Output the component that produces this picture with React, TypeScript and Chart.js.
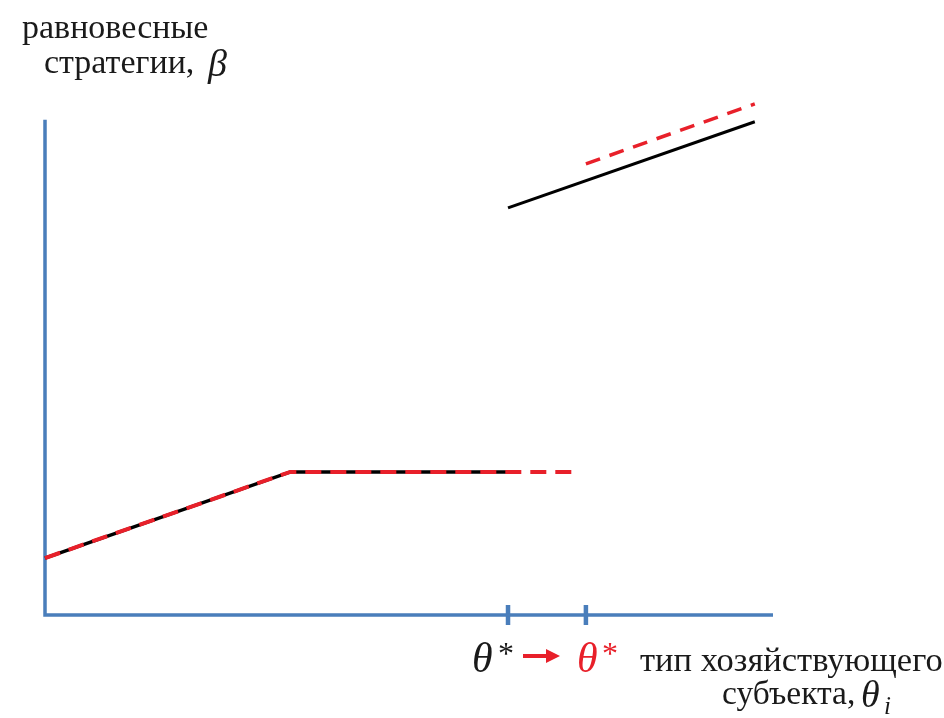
import React, { useEffect, useRef } from "react";
import { Chart, registerables } from "chart.js";
Chart.register(...registerables);

// Data (abstract units)
const axisXEnd = 10;
const axisYTop = 10;
const thetaOld = 6.36;
const thetaNew = 7.43;
const tickHalf = 0.2;
const lowerBlackX = [0, 3.37, 6.36];
const lowerBlackY = [1.15, 2.89, 2.89];
const lowerRedX = [0, 3.37, 7.28];
const lowerRedY = [1.15, 2.89, 2.89];
const upperBlackX = [6.36, 9.75];
const upperBlackY = [8.22, 9.96];
const upperRedX = [7.43, 9.75];
const upperRedY = [9.11, 10.32];

const pts = (xs: number[], ys: number[]) => xs.map((x, i) => ({ x, y: ys[i] }));

const AXIS_BLUE = "#4a7ebb";
const RED = "#e8202a";

const textPlugin = {
  id: "textLabels",
  afterDraw(chart: any) {
    const ctx = chart.ctx;
    const xs = chart.scales.x;
    ctx.save();
    ctx.textBaseline = "alphabetic";
    ctx.textAlign = "left";
    ctx.fillStyle = "#1a1a1a";
    ctx.font = '34px "Liberation Serif"';
    ctx.fillText("равновесные", 22, 38);
    ctx.fillText("стратегии,", 44, 73);
    ctx.font = 'italic 38px "Liberation Serif"';
    ctx.fillText("β", 208, 76);

    const t1 = xs.getPixelForValue(thetaOld);
    const t2 = xs.getPixelForValue(thetaNew);
    // old theta*
    ctx.font = 'italic 42px "Liberation Serif"';
    ctx.fillStyle = "#1a1a1a";
    ctx.fillText("θ", t1 - 36, 672);
    ctx.font = '32px "Liberation Serif"';
    ctx.fillText("*", t1 - 10, 664);
    // arrow
    ctx.fillStyle = RED;
    ctx.strokeStyle = RED;
    ctx.lineWidth = 4;
    ctx.beginPath();
    ctx.moveTo(t1 + 15, 656);
    ctx.lineTo(t1 + 40, 656);
    ctx.stroke();
    ctx.beginPath();
    ctx.moveTo(t1 + 38, 649);
    ctx.lineTo(t1 + 52, 656);
    ctx.lineTo(t1 + 38, 663);
    ctx.closePath();
    ctx.fill();
    // new theta*
    ctx.font = 'italic 42px "Liberation Serif"';
    ctx.fillText("θ", t2 - 9, 672);
    ctx.font = '32px "Liberation Serif"';
    ctx.fillText("*", t2 + 16, 664);
    // x axis title
    ctx.fillStyle = "#1a1a1a";
    ctx.font = '34.5px "Liberation Serif"';
    ctx.fillText("тип хозяйствующего", 640, 671);
    ctx.font = '33.5px "Liberation Serif"';
    ctx.fillText("субъекта,", 722, 704);
    ctx.font = 'italic 38px "Liberation Serif"';
    ctx.fillText("θ", 861, 707);
    ctx.font = 'italic 25px "Liberation Serif"';
    ctx.fillText("i", 884, 714);
    ctx.restore();
  },
};

export default function App() {
  const ref = useRef<HTMLCanvasElement>(null);
  useEffect(() => {
    document.body.style.margin = "0";
    const canvas = ref.current!;
    const chart = new Chart(canvas, {
      type: "line",
      data: {
        datasets: [
          {
            data: pts(lowerRedX, lowerRedY),
            borderColor: RED,
            borderWidth: 4,
            borderDash: [16, 9],
            pointRadius: 0,
            order: 0,
            clip: false,
          } as any,
          {
            data: pts(lowerBlackX, lowerBlackY),
            borderColor: "#000",
            borderWidth: 3.5,
            pointRadius: 0,
            order: 1,
            clip: false,
          },
          {
            data: pts(upperBlackX, upperBlackY),
            borderColor: "#000",
            borderWidth: 3,
            pointRadius: 0,
            order: 1,
            clip: false,
          },
          {
            data: pts(upperRedX, upperRedY),
            borderColor: RED,
            borderWidth: 3.5,
            borderDash: [15, 10],
            pointRadius: 0,
            order: 0,
            clip: false,
          },
          {
            data: [
              { x: 0, y: axisYTop },
              { x: 0, y: 0 },
              { x: axisXEnd, y: 0 },
            ],
            borderColor: AXIS_BLUE,
            borderWidth: 3.5,
            pointRadius: 0,
            order: 2,
            clip: false,
            borderJoinStyle: "miter",
          },
          {
            data: [
              { x: thetaOld, y: tickHalf },
              { x: thetaOld, y: -tickHalf },
            ],
            borderColor: AXIS_BLUE,
            borderWidth: 4.5,
            pointRadius: 0,
            order: 2,
            clip: false,
          },
          {
            data: [
              { x: thetaNew, y: tickHalf },
              { x: thetaNew, y: -tickHalf },
            ],
            borderColor: AXIS_BLUE,
            borderWidth: 4.5,
            pointRadius: 0,
            order: 2,
            clip: false,
          },
        ],
      },
      options: {
        responsive: false,
        animation: false,
        devicePixelRatio: 1,
        layout: { padding: { left: 45, right: 171, top: 95, bottom: 103 } },
        plugins: { legend: { display: false }, tooltip: { enabled: false } },
        scales: {
          x: { type: "linear", min: 0, max: 10, display: false },
          y: { type: "linear", min: 0, max: 10.5, display: false },
        },
      },
      plugins: [textPlugin],
    } as any);
    return () => chart.destroy();
  }, []);
  return <canvas ref={ref} width={944} height={718} style={{ display: "block" }} />;
}
